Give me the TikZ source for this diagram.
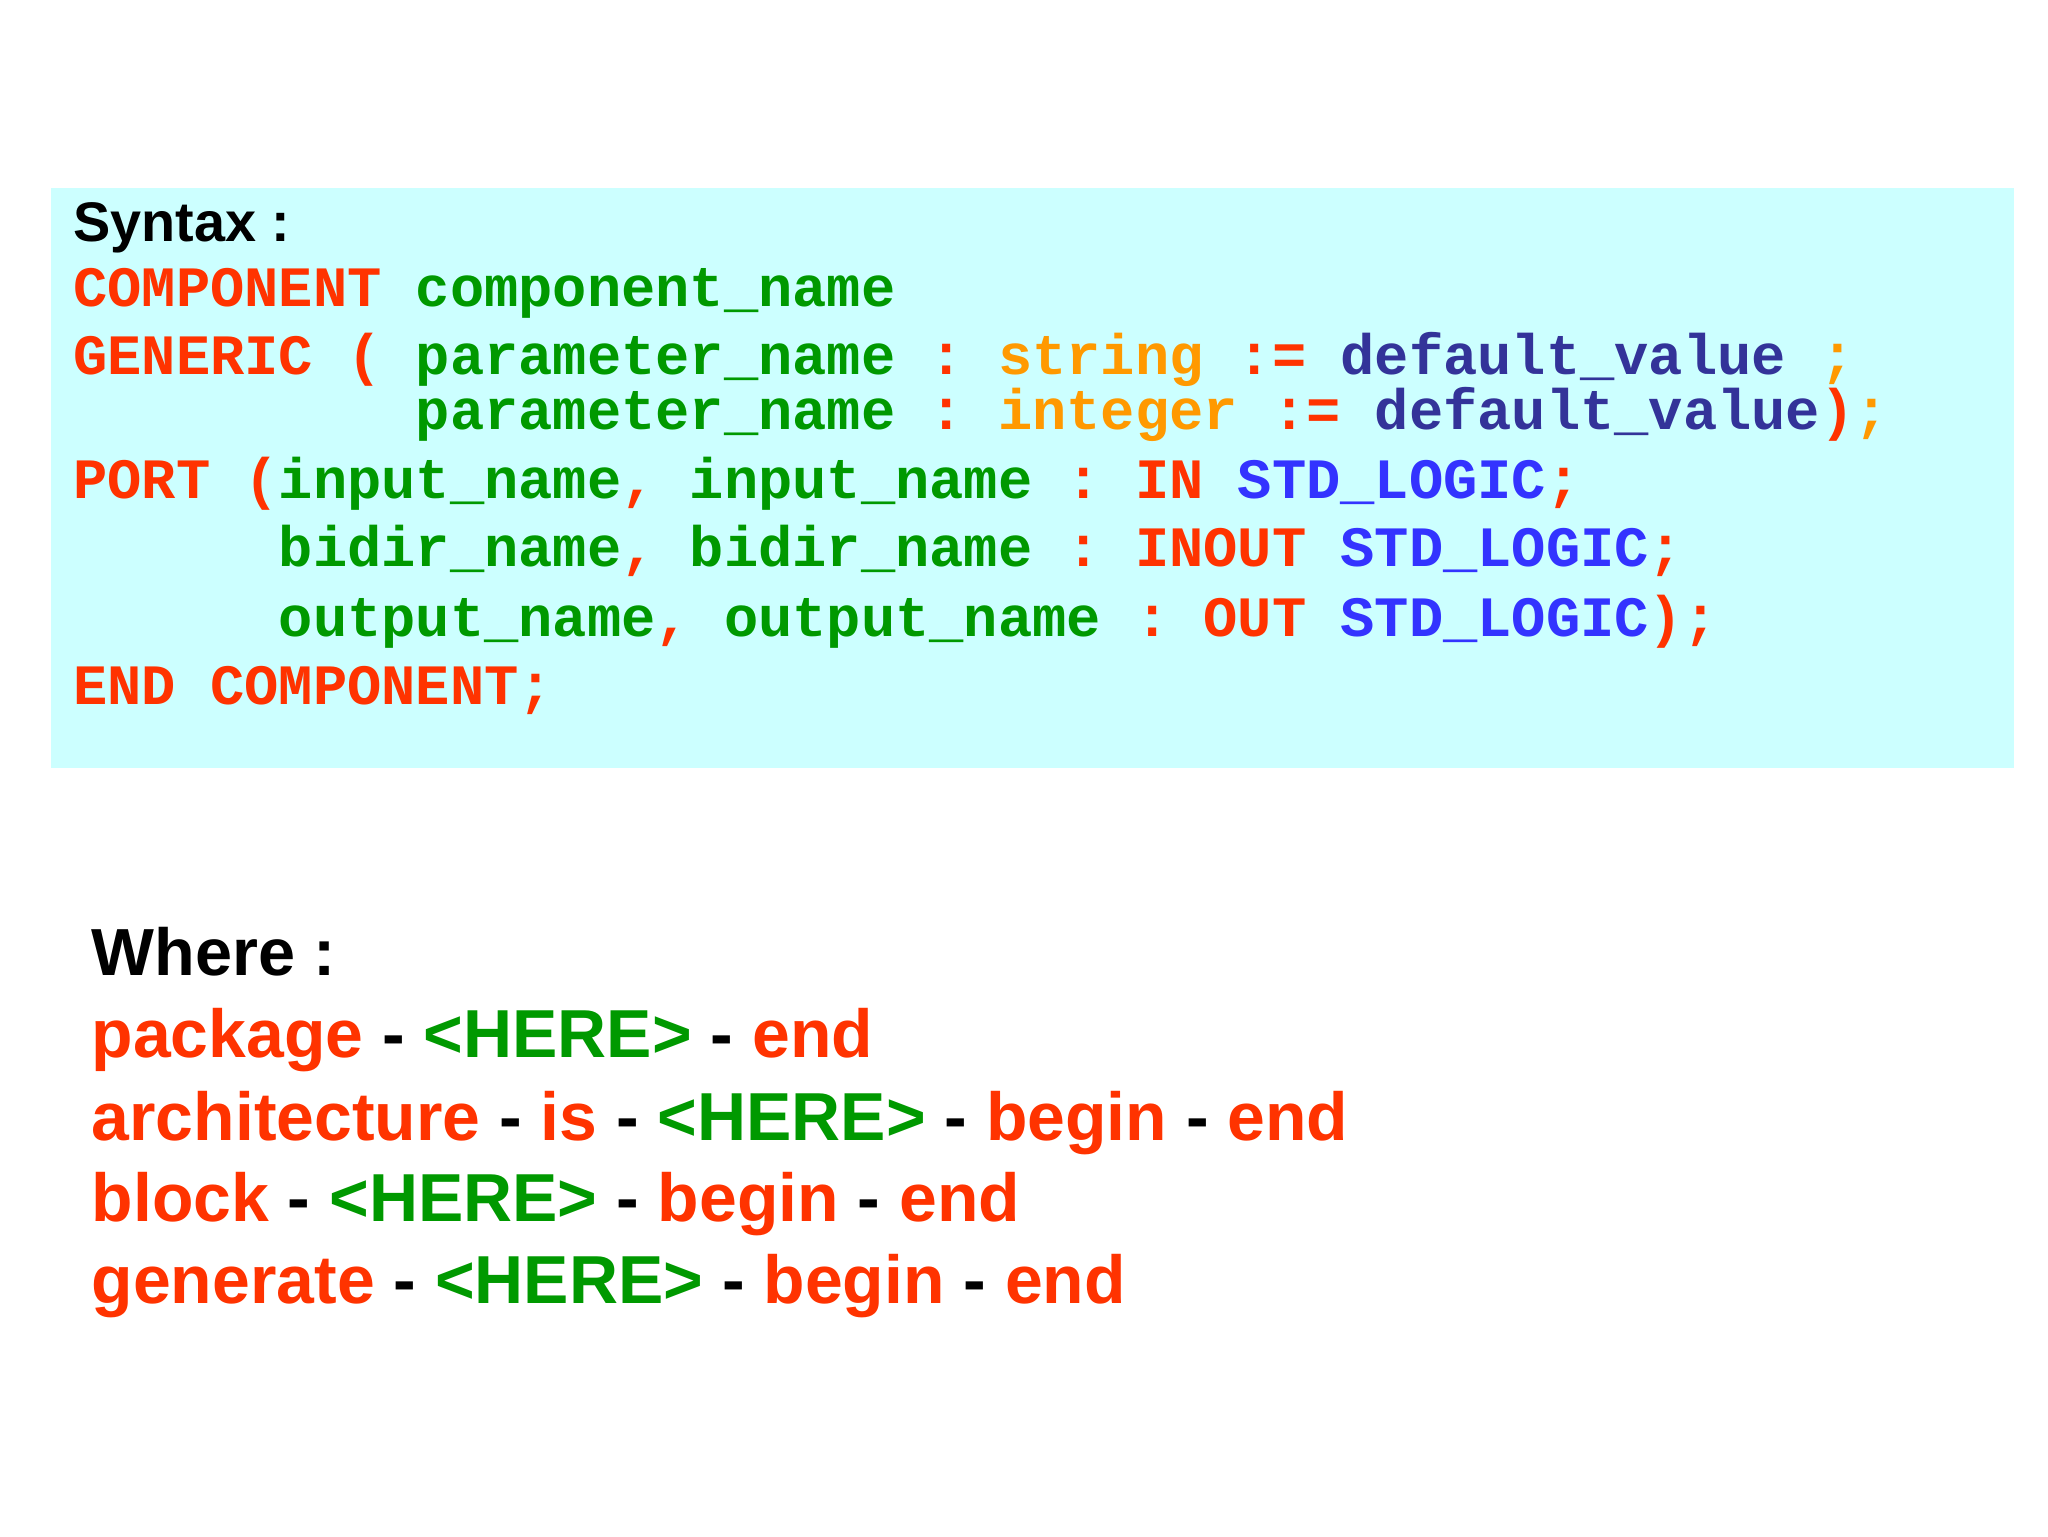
\documentclass[tikz,border=0pt]{standalone}
\usepackage{fontspec}
\setmainfont{Liberation Sans}
\setmonofont{Liberation Mono}
\definecolor{cbg}{HTML}{CCFFFF}
\definecolor{kr}{HTML}{FF3300}
\definecolor{kg}{HTML}{009900}
\definecolor{ko}{HTML}{FF9900}
\definecolor{kd}{HTML}{333399}
\definecolor{kb}{HTML}{3333FF}
\newcommand{\R}[1]{\textcolor{kr}{#1}}
\newcommand{\G}[1]{\textcolor{kg}{#1}}
\newcommand{\Or}[1]{\textcolor{ko}{#1}}
\newcommand{\D}[1]{\textcolor{kd}{#1}}
\newcommand{\B}[1]{\textcolor{kb}{#1}}
\newcommand{\sk}[1]{\hspace*{#1\dimexpr 0.6em\relax}}
\begin{document}
\begin{tikzpicture}[x=1pt,y=-1pt,
  code/.style={anchor=base west,inner sep=0pt,font=\ttfamily\bfseries\fontsize{43.7}{52}\selectfont},
  big/.style={anchor=base west,inner sep=0pt,font=\bfseries\fontsize{52}{62}\selectfont}]
\useasboundingbox (0,0) rectangle (1568,1176);
\fill[white] (0,0) rectangle (1568,1176);
\fill[cbg] (39,144) rectangle (1542,588) node[pos=0,opacity=0] (box) {};
\node[anchor=base west,inner sep=0pt,font=\bfseries\fontsize{42.7}{50}\selectfont] (syn) at (56,185) {Syntax :};
\node[code] (l1) at (56,235) {\R{COMPONENT}\sk1\G{component\_name}};
\node[code] (l2) at (56,287) {\R{GENERIC}\sk1\R{(}\sk1\G{parameter\_name}\sk1\R{:}\sk1\Or{string}\sk1\R{:=}\sk1\D{default\_value}\sk1\Or{;}};
\node[code] (l3) at (56,329) {\sk{10}\G{parameter\_name}\sk1\R{:}\sk1\Or{integer}\sk1\R{:=}\sk1\D{default\_value}\R{)}\Or{;}};
\node[code] (l4) at (56,382) {\R{PORT}\sk1\R{(}\G{input\_name}\R{,}\sk1\G{input\_name}\sk1\R{:}\sk1\R{IN}\sk1\B{STD\_LOGIC}\R{;}};
\node[code] (l5) at (56,434) {\sk6\G{bidir\_name}\R{,}\sk1\G{bidir\_name}\sk1\R{:}\sk1\R{INOUT}\sk1\B{STD\_LOGIC}\R{;}};
\node[code] (l6) at (56,487) {\sk6\G{output\_name}\R{,}\sk1\G{output\_name}\sk1\R{:}\sk1\R{OUT}\sk1\B{STD\_LOGIC}\R{)}\R{;}};
\node[code] (l7) at (56,539) {\R{END}\sk1\R{COMPONENT}\R{;}};
\node[anchor=base west,inner sep=0pt,font=\bfseries\fontsize{51}{60}\selectfont] (wh) at (70,747) {Where :};
\node[big] (b1) at (70,810) {\R{package} - \G{<HERE>} - \R{end}};
\node[big] (b2) at (70,873) {\R{architecture} - \R{is} - \G{<HERE>} - \R{begin} - \R{end}};
\node[big] (b3) at (70,935) {\R{block} - \G{<HERE>} - \R{begin} - \R{end}};
\node[big] (b4) at (70,998) {\R{generate} - \G{<HERE>} - \R{begin} - \R{end}};
\end{tikzpicture}
\end{document}
